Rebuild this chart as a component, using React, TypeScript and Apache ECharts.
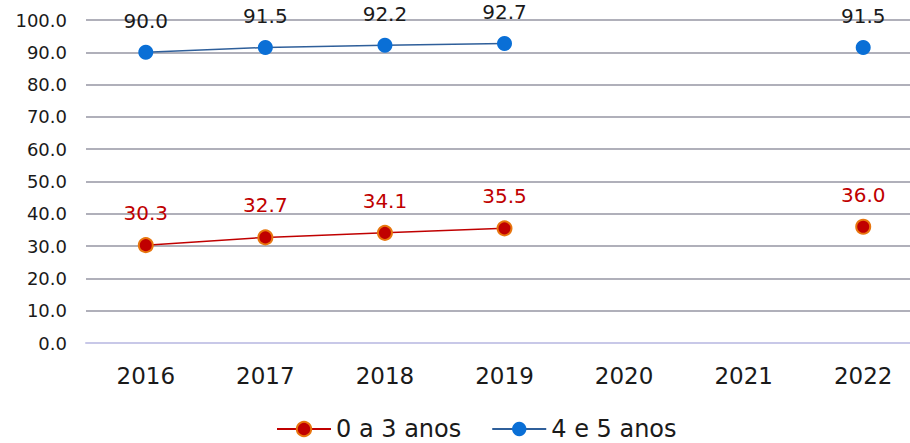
import React, { useEffect, useRef } from "react";
import * as echarts from "echarts";

const years = ["2016", "2017", "2018", "2019", "2020", "2021", "2022"];
const age0to3 = [30.3, 32.7, 34.1, 35.5, null, null, 36.0];
const age4to5 = [90.0, 91.5, 92.2, 92.7, null, null, 91.5];
const yTicks = { min: 0, max: 100, interval: 10 };

export default function App() {
  const ref = useRef<HTMLDivElement>(null);
  useEffect(() => {
    if (!ref.current) return;
    const chart = echarts.init(ref.current, null, { renderer: "svg" });
    const font = "'DejaVu Sans', Verdana, sans-serif";
    chart.setOption({
      animation: false,
      textStyle: { fontFamily: font },
      grid: { left: 86, top: 20, width: 837, height: 323, outerBoundsMode: "none", containLabel: false },
      xAxis: {
        type: "category",
        data: years,
        axisLine: { show: true, lineStyle: { color: "#c8c8e8", width: 2 } },
        axisTick: { show: false },
        axisLabel: { color: "#1a1a1a", fontSize: 23, margin: 21, fontFamily: font },
      },
      yAxis: {
        type: "value",
        min: yTicks.min,
        max: yTicks.max,
        interval: yTicks.interval,
        axisLine: { show: false },
        axisTick: { show: false },
        axisLabel: {
          color: "#1a1a1a",
          fontSize: 18,
          margin: 19,
          fontFamily: font,
          formatter: (v: number) => v.toFixed(1),
        },
        splitLine: { lineStyle: { color: "#b0b0ba", width: 2 } },
      },
      legend: {
        bottom: -3,
        left: 271,
        itemWidth: 54,
        itemHeight: 18,
        itemGap: 30,
        textStyle: { fontSize: 24, color: "#1a1a1a", fontFamily: font },
        data: [{ name: "0 a 3 anos" }, { name: "4 e 5 anos" }],
      },
      series: [
        {
          name: "0 a 3 anos",
          type: "line",
          data: age0to3,
          connectNulls: false,
          symbol: "circle",
          symbolSize: 14,
          itemStyle: { color: "#c00000", borderColor: "#e8760f", borderWidth: 2 },
          lineStyle: { color: "#c00000", width: 1.5 },
          label: {
            show: true,
            position: "top",
            distance: 14,
            color: "#c00000",
            fontSize: 20,
            fontFamily: font,
            formatter: (p: any) => (p.value == null ? "" : Number(p.value).toFixed(1)),
          },
        },
        {
          name: "4 e 5 anos",
          type: "line",
          data: age4to5,
          connectNulls: false,
          symbol: "circle",
          symbolSize: 15,
          itemStyle: { color: "#0a6fd6" },
          lineStyle: { color: "#2f5f9a", width: 1.5 },
          label: {
            show: true,
            position: "top",
            distance: 14,
            color: "#1a1a1a",
            fontSize: 20,
            fontFamily: font,
            formatter: (p: any) => (p.value == null ? "" : Number(p.value).toFixed(1)),
          },
        },
      ],
    });
    return () => chart.dispose();
  }, []);
  return (
    <div
      ref={ref}
      style={{ position: "absolute", left: 0, top: 0, width: 910, height: 443, background: "#fff" }}
    />
  );
}
